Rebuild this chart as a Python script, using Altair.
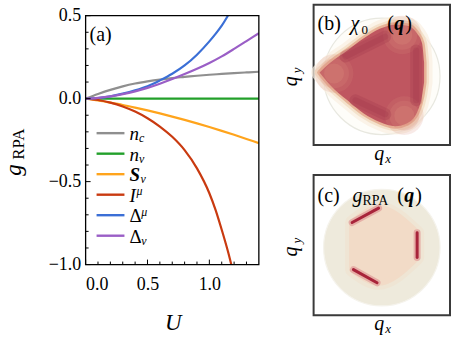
import altair as alt
import pandas as pd

FONT = "Liberation Serif"

# ---------------- panel (a): g_RPA versus U ----------------
U = [0.0, 0.1, 0.2, 0.3, 0.4, 0.5, 0.6, 0.7, 0.8, 0.9, 1.0, 1.1, 1.2, 1.3, 1.4]
g_nc = [0.0, 0.028, 0.053, 0.074, 0.091, 0.104, 0.115, 0.124, 0.131, 0.138, 0.144, 0.149, 0.154, 0.158, 0.162]
g_nv = [0.0, 0.0, 0.0, 0.0, 0.0, 0.0, 0.0, 0.0, 0.0, 0.0, 0.0, 0.0, 0.0, 0.0, 0.0]
g_Sv = [0.0, -0.011, -0.024, -0.038, -0.054, -0.071, -0.089, -0.108, -0.128, -0.149, -0.171, -0.194, -0.218, -0.243, -0.268]
g_Dv = [0.0, 0.005, 0.014, 0.027, 0.044, 0.065, 0.09, 0.118, 0.148, 0.18, 0.215, 0.255, 0.3, 0.347, 0.394]
U_Imu = [0.0, 0.1, 0.2, 0.3, 0.4, 0.5, 0.6, 0.7, 0.8, 0.9, 1.0, 1.05, 1.1, 1.15, 1.2]
g_Imu = [0.0, -0.008, -0.024, -0.047, -0.078, -0.118, -0.168, -0.23, -0.31, -0.42, -0.57, -0.67, -0.79, -0.92, -1.07]
U_Dmu = [0.0, 0.1, 0.2, 0.3, 0.4, 0.5, 0.6, 0.7, 0.8, 0.9, 1.0, 1.05, 1.1, 1.15]
g_Dmu = [0.0, 0.004, 0.014, 0.03, 0.05, 0.075, 0.11, 0.15, 0.2, 0.265, 0.345, 0.39, 0.44, 0.5]

series = ["n_c", "n_v", "S_v", "I_mu", "Delta_mu", "Delta_v"]
colors = ["#8f8f8f", "#22a02a", "#ffa41c", "#c93a10", "#3b6fd6", "#9a5ec6"]
legend_main = ["n", "n", "S", "I", "Δ", "Δ"]
legend_main_style = ["italic", "italic", "italic", "italic", "normal", "normal"]
legend_main_weight = ["normal", "normal", "bold", "normal", "normal", "normal"]
legend_script = ["c", "v", "v", "μ", "μ", "v"]
legend_script_kind = ["sub", "sub", "sub", "sup", "sup", "sub"]

x_major = [0.0, 0.5, 1.0]
x_minor = [0.1, 0.2, 0.3, 0.4, 0.6, 0.7, 0.8, 0.9, 1.1, 1.2, 1.3]
y_major = [-1.0, -0.5, 0.0, 0.5]
y_minor = [-0.9, -0.8, -0.7, -0.6, -0.4, -0.3, -0.2, -0.1, 0.1, 0.2, 0.3, 0.4]

rows = []
for name, xs, ys in [("n_c", U, g_nc), ("n_v", U, g_nv), ("S_v", U, g_Sv),
                     ("I_mu", U_Imu, g_Imu), ("Delta_mu", U_Dmu, g_Dmu), ("Delta_v", U, g_Dv)]:
    for u, g in zip(xs, ys):
        rows.append({"series": name, "U": u, "g": g})
df = pd.DataFrame(rows)

W, H, TOP = 174, 261, 11
xs_a = alt.Scale(domain=[0, 1.4], nice=False, zero=False)
ys_a = alt.Scale(domain=[-1.0, 0.5], range=[H, TOP], nice=False, zero=False)

xaxis = alt.Axis(values=x_major, labelExpr="format(datum.value, '.1f')", ticks=False, domain=False,
                 grid=False, labelFont=FONT, labelFontSize=18, labelColor="black", labelPadding=11, title=None)
yaxis = alt.Axis(values=y_major, labelExpr="replace(format(datum.value, '.1f'), '-', '\u2212')", ticks=False,
                 domain=False, grid=False, labelFont=FONT, labelFontSize=18, labelColor="black",
                 labelPadding=5, title=None)

one = pd.DataFrame({"a": [0]})


def txt(text, x, y, size, style="normal", weight="normal", angle=0, align="left", baseline="alphabetic"):
    return alt.Chart(one).mark_text(text=text, font=FONT, fontSize=size, fontStyle=style, fontWeight=weight,
                                    angle=angle, align=align, baseline=baseline, color="black").encode(
        x=alt.value(x), y=alt.value(y))


lines = alt.Chart(df).mark_line(strokeWidth=2.2, clip=True, interpolate="monotone").encode(
    x=alt.X("U:Q", scale=xs_a, axis=xaxis),
    y=alt.Y("g:Q", scale=ys_a, axis=yaxis),
    color=alt.Color("series:N", scale=alt.Scale(domain=series, range=colors), legend=None),
    detail="series:N",
)

xt_major = alt.Chart(pd.DataFrame({"v": x_major})).mark_rule(color="black", strokeWidth=1).encode(
    x=alt.X("v:Q", scale=xs_a), y=alt.value(H), y2=alt.value(H - 5))
xt_minor = alt.Chart(pd.DataFrame({"v": x_minor})).mark_rule(color="black", strokeWidth=1).encode(
    x=alt.X("v:Q", scale=xs_a), y=alt.value(H), y2=alt.value(H - 3))
yt_major = alt.Chart(pd.DataFrame({"v": y_major})).mark_rule(color="black", strokeWidth=1).encode(
    y=alt.Y("v:Q", scale=ys_a), x=alt.value(0), x2=alt.value(5))
yt_minor = alt.Chart(pd.DataFrame({"v": y_minor})).mark_rule(color="black", strokeWidth=1).encode(
    y=alt.Y("v:Q", scale=ys_a), x=alt.value(0), x2=alt.value(3))

frame = alt.Chart(one).mark_rect(filled=False, stroke="black", strokeWidth=1.3).encode(
    x=alt.value(0), x2=alt.value(W), y=alt.value(TOP), y2=alt.value(H))

layers_a = [lines, xt_major, xt_minor, yt_major, yt_minor, frame]

# legend
for i in range(len(series)):
    ry = 129 + i * 20.6
    layers_a.append(alt.Chart(one).mark_rule(color=colors[i], strokeWidth=2.4).encode(
        x=alt.value(11), x2=alt.value(39), y=alt.value(ry)))
    layers_a.append(txt(legend_main[i], 44, ry + 7, 19, style=legend_main_style[i], weight=legend_main_weight[i]))
    wmain = {"n": 9.5, "S": 11, "I": 7, "Δ": 12}[legend_main[i]]
    if legend_script_kind[i] == "sub":
        layers_a.append(txt(legend_script[i], 44 + wmain, ry + 9, 12, style="italic"))
    else:
        layers_a.append(txt(legend_script[i], 44 + wmain, ry + 0.5, 12, style="italic"))

layers_a += [
    txt("(a)", 4, 36, 20),
    txt("U", 88, 327, 23, style="italic", align="center"),
    txt("g", -65, 166, 23, style="italic", angle=270, align="center"),
    txt("RPA", -62, 140, 17, angle=270, align="center"),
]

panel_a = alt.layer(*layers_a).properties(width=W, height=H, view=alt.ViewBackground(stroke="transparent"))

# ---------------- panels (b) and (c): momentum maps ----------------
qs = alt.Scale(domain=[-1, 1], nice=False, zero=False)
PW, PH = 137, 141

# (b) chi_0(q): rounded triangular high region (outline)
tri_qx = [-0.912, -0.752, -0.504, -0.270, -0.022, 0.197, 0.372, 0.518, 0.591, 0.620]
tri_top = [0.035, 0.177, 0.348, 0.518, 0.660, 0.716, 0.702, 0.589, 0.447, 0.177]
tri_bot = [0.035, -0.149, -0.362, -0.546, -0.674, -0.730, -0.688, -0.532, -0.291, -0.106]
corner_qx = [-0.70, 0.30, 0.33]
corner_qy = [0.02, 0.57, -0.58]
band_x1 = [-0.533, 0.504, -0.387]
band_y1 = [0.262, 0.348, -0.362]
band_x2 = [0.051, 0.504, 0.051]
band_y2 = [0.546, -0.362, -0.560]

# (c) g_RPA(q): pale hexagon with three sharp peaks
hex_qx = [-0.435, -0.05, 0.518]
hex_top = [0.323, 0.528, 0.177]
hex_bot = [-0.348, -0.536, -0.177]
peak_x1 = [-0.435, 0.518, -0.416]
peak_y1 = [0.323, 0.177, -0.348]
peak_x2 = [-0.047, 0.518, -0.070]
peak_y2 = [0.528, -0.177, -0.536]

disc_r_px = 66


def disc(cy, fill, stroke):
    return alt.Chart(pd.DataFrame({"qx": [0.0], "qy": [cy]})).mark_point(
        shape="circle", filled=True, size=3.14159 * disc_r_px ** 2, fill=fill, stroke=stroke,
        strokeWidth=1.2, opacity=1).encode(
        x=alt.X("qx:Q", scale=qs, axis=None), y=alt.Y("qy:Q", scale=qs, axis=None))


def region(qx, top, bot, fill, width, opacity):
    d = pd.DataFrame({"qx": qx, "top": top, "bot": bot})
    return alt.Chart(d).mark_area(fill=fill, stroke=fill, strokeWidth=width, strokeJoin="round",
                                  opacity=opacity, interpolate="monotone").encode(
        x=alt.X("qx:Q", scale=qs, axis=None), y=alt.Y("top:Q", scale=qs, axis=None), y2="bot:Q")


def segs(x1, y1, x2, y2, color, width, opacity):
    d = pd.DataFrame({"x1": x1, "y1": y1, "x2": x2, "y2": y2})
    return alt.Chart(d).mark_rule(color=color, strokeWidth=width, opacity=opacity, strokeCap="round").encode(
        x=alt.X("x1:Q", scale=qs, axis=None), y=alt.Y("y1:Q", scale=qs, axis=None), x2="x2:Q", y2="y2:Q")


def blobs(qx, qy, color, size, opacity):
    d = pd.DataFrame({"qx": qx, "qy": qy})
    return alt.Chart(d).mark_point(shape="circle", filled=True, size=size, fill=color, strokeWidth=0,
                                   opacity=opacity).encode(
        x=alt.X("qx:Q", scale=qs, axis=None), y=alt.Y("qy:Q", scale=qs, axis=None))


def qlabels():
    return [
        txt("q", -17, 77, 20, style="italic", angle=270, align="center"),
        txt("y", -13, 66, 13, style="italic", angle=270, align="center"),
        txt("q", 66, 156, 20, style="italic", align="center"),
        txt("x", 72, 159, 13, style="italic"),
    ]


panel_b = alt.layer(
    disc(-0.02, "#fefdf9", "#e8e8e0"),
    region(tri_qx, tri_top, tri_bot, "#faf0e2", 17, 0.7),
    region(tri_qx, tri_top, tri_bot, "#f2dcc0", 10, 0.7),
    region(tri_qx, tri_top, tri_bot, "#e6ad90", 5, 0.85),
    region(tri_qx, tri_top, tri_bot, "#bf5660", 0, 1),
    blobs(corner_qx, corner_qy, "#d98a7a", 1500, 0.18),
    blobs(corner_qx, corner_qy, "#d98a7a", 900, 0.22),
    blobs(corner_qx, corner_qy, "#da8c7c", 400, 0.3),
    segs(band_x1, band_y1, band_x2, band_y2, "#a3384b", 12, 0.3),
    segs(band_x1, band_y1, band_x2, band_y2, "#a3384b", 6, 0.3),
    txt("(b)", 4, 25, 20),
    txt("χ", 37, 25, 20, style="italic"),
    txt("0", 48, 29, 13),
    txt("(", 74, 25, 20),
    txt("q", 81, 25, 20, style="italic", weight="bold"),
    txt(")", 92, 25, 20),
    *qlabels(),
).properties(width=PW, height=PH, view=alt.ViewBackground(stroke="#3a3a3a", strokeWidth=2))

panel_c = alt.layer(
    disc(-0.035, "#eeeadc", "#f5f3ec"),
    region(hex_qx, hex_top, hex_bot, "#f1e2cf", 14, 0.6),
    region(hex_qx, hex_top, hex_bot, "#f3dbc6", 6, 0.9),
    segs(peak_x1, peak_y1, peak_x2, peak_y2, "#dd9090", 7, 0.6),
    segs(peak_x1, peak_y1, peak_x2, peak_y2, "#a8243a", 3, 1),
    txt("(c)", 4, 27, 20),
    txt("g", 39, 27, 20, style="italic"),
    txt("RPA", 49, 30, 14),
    txt("(", 84, 27, 20),
    txt("q", 91, 27, 20, style="italic", weight="bold"),
    txt(")", 102, 27, 20),
    *qlabels(),
).properties(width=PW, height=PH, view=alt.ViewBackground(stroke="#3a3a3a", strokeWidth=2))

right = alt.vconcat(panel_b, panel_c, spacing=30, bounds="flush")

chart = alt.hconcat(panel_a, right, spacing=55, bounds="flush").properties(
    padding={"left": 2, "top": 3, "right": 0, "bottom": 0},
    background="white",
)

chart.save("out.html", embed_options={"renderer": "svg", "actions": False})
